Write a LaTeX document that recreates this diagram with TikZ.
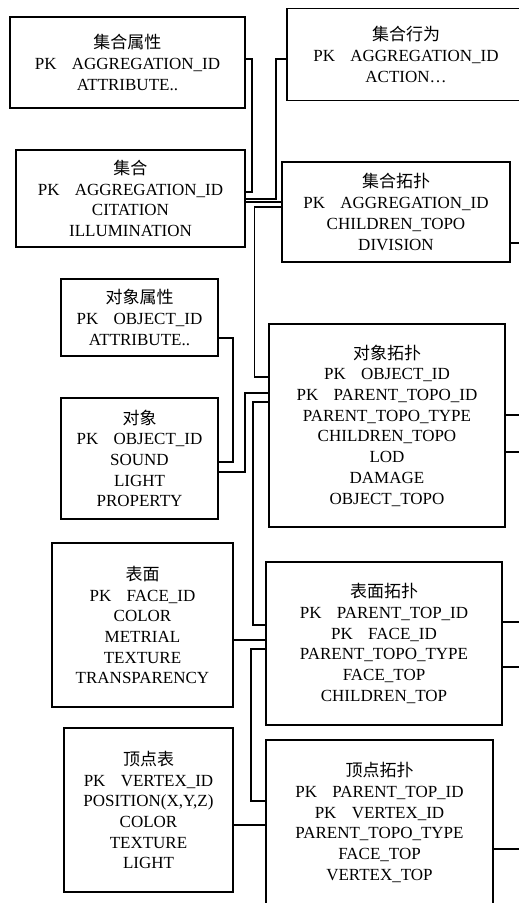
\documentclass[tikz,border=0pt]{standalone}
\usepackage{fontspec}
\setmainfont{Liberation Serif}
\newfontfamily\cjk{Noto Sans CJK SC}
\newcommand{\pkx}{PK\hspace{0.9em}}
\newcommand{\cjktitle}[1]{{\cjk #1}}
\tikzset{
  tbl/.style={draw, line width=1.1pt, align=center, inner sep=0pt, outer sep=0pt,
    font=\fontsize{17}{20.7}\selectfont},
  link/.style={line width=1.1pt},
}
\begin{document}
\begin{tikzpicture}[x=1pt, y=-1pt]
\useasboundingbox (0,0) rectangle (519,903);
\clip (0,0) rectangle (519,903);

\node[tbl, minimum width=235pt, minimum height=91pt] (attrA) at (127.5,62.5)
  {\cjktitle{集合属性}\\ \pkx AGGREGATION\_ID\\ ATTRIBUTE..};
\node[tbl, minimum width=238pt, minimum height=91.5pt] (actA) at (406,54.3)
  {\cjktitle{集合行为}\\ \pkx AGGREGATION\_ID\\ ACTION\ldots};
\node[tbl, minimum width=229pt, minimum height=97pt] (agg) at (130.5,198.5)
  {\cjktitle{集合}\\ \pkx AGGREGATION\_ID\\ CITATION\\ ILLUMINATION};
\node[tbl, minimum width=228pt, minimum height=100pt] (aggTopo) at (396,212)
  {\cjktitle{集合拓扑}\\ \pkx AGGREGATION\_ID\\ CHILDREN\_TOPO\\ DIVISION};
\node[tbl, minimum width=157pt, minimum height=77pt] (objAttr) at (139.5,317.5)
  {\cjktitle{对象属性}\\ \pkx OBJECT\_ID\\ ATTRIBUTE..};
\node[tbl, minimum width=157pt, minimum height=121pt] (obj) at (139.5,458.5)
  {\cjktitle{对象}\\ \pkx OBJECT\_ID\\ SOUND\\ LIGHT\\ PROPERTY};
\node[tbl, minimum width=236pt, minimum height=203pt] (objTopo) at (387,425.5)
  {\cjktitle{对象拓扑}\\ \pkx OBJECT\_ID\\ \pkx PARENT\_TOPO\_ID\\ PARENT\_TOPO\_TYPE\\ CHILDREN\_TOPO\\ LOD\\ DAMAGE\\ OBJECT\_TOPO};
\node[tbl, minimum width=181pt, minimum height=164pt] (face) at (142.5,625)
  {\cjktitle{表面}\\ \pkx FACE\_ID\\ COLOR\\ METRIAL\\ TEXTURE\\ TRANSPARENCY};
\node[tbl, minimum width=236pt, minimum height=163pt] (faceTopo) at (384,643.5)
  {\cjktitle{表面拓扑}\\ \pkx PARENT\_TOP\_ID\\ \pkx FACE\_ID\\ PARENT\_TOPO\_TYPE\\ FACE\_TOP\\ CHILDREN\_TOP};
\node[tbl, minimum width=169pt, minimum height=164pt] (vert) at (148.5,810)
  {\cjktitle{顶点表}\\ \pkx VERTEX\_ID\\ POSITION(X,Y,Z)\\ COLOR\\ TEXTURE\\ LIGHT};
\node[tbl, minimum width=227pt, minimum height=165pt] (vertTopo) at (379.5,822.5)
  {\cjktitle{顶点拓扑}\\ \pkx PARENT\_TOP\_ID\\ \pkx VERTEX\_ID\\ PARENT\_TOPO\_TYPE\\ FACE\_TOP\\ VERTEX\_TOP};

% free ends at the right edge
\coordinate (r1) at (521,243);
\coordinate (r2) at (521,415);
\coordinate (r3) at (521,452);
\coordinate (r4) at (521,622);
\coordinate (r5) at (521,667);
\coordinate (r6) at (521,849);

% connectors
\draw[link] (attrA.east |- 0,59) -- (252,59) -- (252,192) -- (agg.east |- 0,192);
\draw[link] (agg.east |- 0,199) -- (276,199) -- (276,59) -- (actA.west |- 0,59);
\draw[link] (agg.east |- 0,202) -- (aggTopo.west |- 0,202);
\draw[link] (aggTopo.west |- 0,207) -- (254.5,207) -- (254.5,377) -- (objTopo.west |- 0,377);
\draw[link] (objAttr.east |- 0,338) -- (233,338) -- (233,462) -- (obj.east |- 0,462);
\draw[link] (obj.east |- 0,472) -- (245,472) -- (245,393) -- (objTopo.west |- 0,393);
\draw[link] (objTopo.west |- 0,402) -- (253,402) -- (253,625) -- (faceTopo.west |- 0,625);
\draw[link] (face.east |- 0,640) -- (faceTopo.west |- 0,640);
\draw[link] (faceTopo.west |- 0,649) -- (251,649) -- (251,801) -- (vertTopo.west |- 0,801);
\draw[link] (vert.east |- 0,825) -- (vertTopo.west |- 0,825);

\draw[link] (aggTopo.east |- r1) -- (r1);
\draw[link] (objTopo.east |- r2) -- (r2);
\draw[link] (objTopo.east |- r3) -- (r3);
\draw[link] (faceTopo.east |- r4) -- (r4);
\draw[link] (faceTopo.east |- r5) -- (r5);
\draw[link] (vertTopo.east |- r6) -- (r6);
\end{tikzpicture}
\end{document}
